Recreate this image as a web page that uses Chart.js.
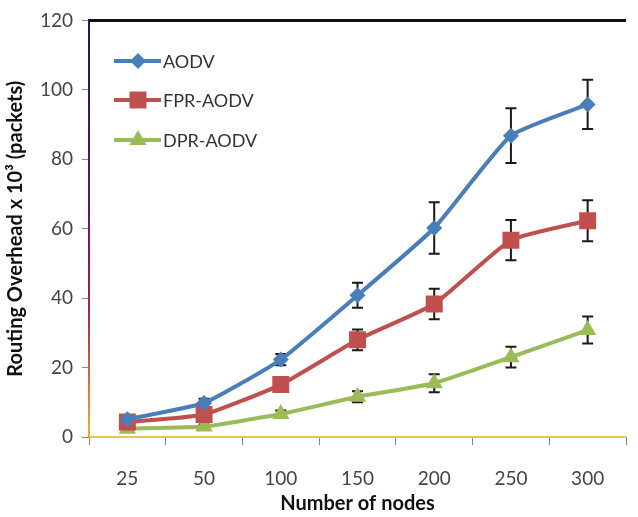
<!DOCTYPE html>
<html>
<head>
<meta charset="utf-8">
<script src="https://cdn.jsdelivr.net/npm/chart.js@4"></script>
<style>
  html, body { margin: 0; padding: 0; background: #fff; }
  #wrap { width: 638px; height: 517px; position: relative; }
</style>
</head>
<body>
<div id="wrap"><canvas id="chart_one"></canvas></div>
<script>

// routing overhead (x10^3 packets) against number of nodes
var nodes = ['25', '50', '100', '150', '200', '250', '300'];
var aodv = [5.1, 9.8, 22.3, 40.8, 60.2, 86.8, 95.8];
var aodvErr = [1.0, 1.2, 1.6, 3.6, 7.4, 7.9, 7.1];
var fpr = [4.3, 6.5, 15.1, 28.0, 38.3, 56.7, 62.3];
var fprErr = [0.8, 1.0, 1.2, 3.0, 4.4, 5.8, 5.9];
var dpr = [2.4, 3.0, 6.6, 11.6, 15.5, 23.0, 30.8];
var dprErr = [0.5, 0.6, 1.0, 1.6, 2.6, 3.0, 3.9];
var yTicks = [0, 20, 40, 60, 80, 100, 120];

var FONT = 'Lato, "Open Sans", sans-serif';

// vertical error bars, drawn under the markers
var errorBars = {
    id: 'errorBars',
    beforeDatasetsDraw: function (chart) {
        var ctx = chart.ctx;
        var y = chart.scales.y;
        ctx.save();
        ctx.strokeStyle = '#1a1a1a';
        ctx.lineWidth = 2;
        chart.data.datasets.forEach(function (ds, i) {
            var meta = chart.getDatasetMeta(i);
            meta.data.forEach(function (pt, j) {
                var e = ds.errors[j];
                var top = y.getPixelForValue(ds.data[j] + e);
                var bot = y.getPixelForValue(ds.data[j] - e);
                ctx.beginPath();
                ctx.moveTo(pt.x, top); ctx.lineTo(pt.x, bot);
                ctx.moveTo(pt.x - 5.5, top); ctx.lineTo(pt.x + 5.5, top);
                ctx.moveTo(pt.x - 5.5, bot); ctx.lineTo(pt.x + 5.5, bot);
                ctx.stroke();
            });
        });
        ctx.restore();
    }
};

// frame: black top edge, shaded left axis, pale bottom axis
var frame = {
    id: 'frame',
    afterDraw: function (chart) {
        var ctx = chart.ctx;
        var a = chart.chartArea;
        ctx.save();
        ctx.strokeStyle = '#111';
        ctx.lineWidth = 3;
        ctx.beginPath();
        ctx.moveTo(a.left - 1, a.top); ctx.lineTo(a.right, a.top);
        ctx.stroke();

        var g = ctx.createLinearGradient(0, a.top, 0, a.bottom);
        g.addColorStop(0, '#1c1c4a');
        g.addColorStop(0.45, '#5a1a5e');
        g.addColorStop(0.7, '#b0204a');
        g.addColorStop(1, '#f0b030');
        ctx.strokeStyle = g;
        ctx.lineWidth = 2;
        ctx.beginPath();
        ctx.moveTo(a.left, a.top); ctx.lineTo(a.left, a.bottom);
        ctx.stroke();

        ctx.strokeStyle = '#e6c650';
        ctx.lineWidth = 2;
        ctx.beginPath();
        ctx.moveTo(a.left, a.bottom); ctx.lineTo(a.right, a.bottom);
        ctx.stroke();
        ctx.restore();
    }
};

// legend inside the plot, line + marker like the series
var innerLegend = {
    id: 'innerLegend',
    afterDraw: function (chart) {
        var ctx = chart.ctx;
        var rows = [61, 100, 140];
        ctx.save();
        chart.data.datasets.forEach(function (ds, i) {
            var ry = rows[i];
            ctx.strokeStyle = ds.borderColor;
            ctx.lineWidth = 4;
            ctx.beginPath();
            ctx.moveTo(114, ry); ctx.lineTo(161, ry);
            ctx.stroke();
            ctx.fillStyle = ds.backgroundColor;
            Chart.helpers.drawPoint(ctx, {
                pointStyle: ds.pointStyle, radius: ds.pointRadius,
                rotation: 0, borderWidth: 0
            }, 138, ry);
            ctx.fillStyle = '#333';
            ctx.font = '18px ' + FONT;
            ctx.textBaseline = 'middle';
            ctx.fillText(ds.label, 163, ry + 1);
        });
        ctx.restore();
    }
};

var ctx = document.getElementById('chart_one').getContext('2d');

var chart = new Chart(ctx, {
    type: 'line',
    data: {
        labels: nodes,
        datasets: [{
            label: 'AODV',
            data: aodv,
            errors: aodvErr,
            borderColor: '#4a7ebb',
            backgroundColor: '#4a7ebb',
            borderWidth: 4,
            pointStyle: 'rectRot',
            pointRadius: 8,
            pointBorderWidth: 0,
            tension: 0.15
        }, {
            label: 'FPR-AODV',
            data: fpr,
            errors: fprErr,
            borderColor: '#c0504d',
            backgroundColor: '#c0504d',
            borderWidth: 4,
            pointStyle: 'rect',
            pointRadius: 12,
            pointBorderWidth: 0,
            tension: 0.15
        }, {
            label: 'DPR-AODV',
            data: dpr,
            errors: dprErr,
            borderColor: '#9bbb59',
            backgroundColor: '#9bbb59',
            borderWidth: 4,
            pointStyle: 'triangle',
            pointRadius: 10,
            pointBorderWidth: 0,
            tension: 0.15
        }]
    },
    options: {
        responsive: true,
        maintainAspectRatio: false,
        animation: false,
        layout: { padding: { top: 17, right: 0, left: 0, bottom: 0 } },
        plugins: {
            legend: { display: false },
            tooltip: { enabled: false }
        },
        scales: {
            x: {
                offset: true,
                grid: { offset: true, drawOnChartArea: false, tickLength: 8, color: '#888', lineWidth: 1 },
                border: { display: false },
                ticks: { color: '#444', font: { family: FONT, size: 19 }, padding: 22 },
                title: {
                    display: true, text: 'Number of nodes', color: '#111',
                    font: { family: FONT, size: 20, weight: 'bold' }, padding: { top: 0, bottom: 1 }
                },
                afterFit: function (s) { s.height = 80; }
            },
            y: {
                min: 0,
                max: 120,
                afterBuildTicks: function (s) { s.ticks = yTicks.map(function (v) { return { value: v }; }); },
                grid: { drawOnChartArea: false, tickLength: 7, color: '#888' },
                border: { display: false },
                ticks: { color: '#444', font: { family: FONT, size: 19 }, padding: 9 },
                title: {
                    display: true, text: 'Routing Overhead x 10\u00b3 (packets)', color: '#111',
                    font: { family: FONT, size: 20, weight: 'bold' }, padding: { top: 4, bottom: 0 }
                },
                afterFit: function (s) { s.width = 89; }
            }
        }
    },
    plugins: [errorBars, frame, innerLegend]
});
</script>
</body>
</html>
